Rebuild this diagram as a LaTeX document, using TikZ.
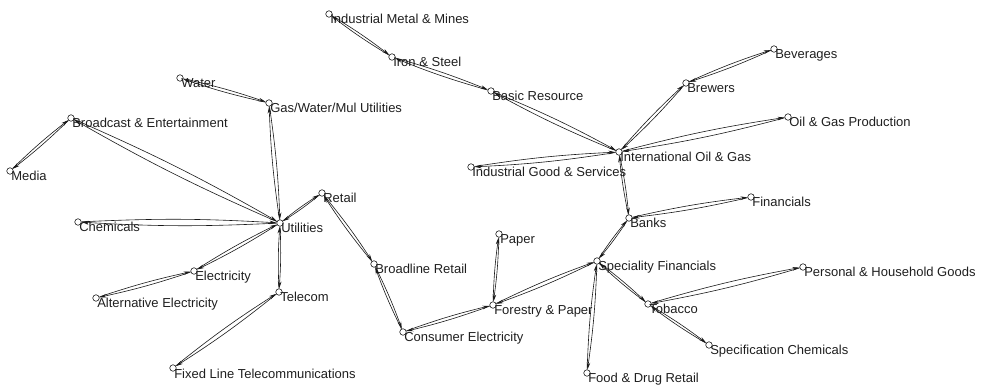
\documentclass[tikz,border=0pt]{standalone}
\usepackage{fontspec}
\setmainfont{Liberation Sans}
\usetikzlibrary{arrows.meta}

\begin{document}
\begin{tikzpicture}[x=1pt,y=-1pt,->,>={Stealth[length=7pt,width=3.6pt]},
	line width=0.6pt,draw=black!90]
	\tikzset{vertex/.style={circle,draw=black!90,fill=white,inner sep=0pt,minimum size=6.5pt},
		lbl/.style={anchor=base west,inner sep=0pt,text=black!88,font=\fontsize{13}{15}\selectfont}}
	\useasboundingbox (0,0) rectangle (983,387);

	% sectors
	\node[vertex] (water)     at (180,78)  {};
	\node[vertex] (gasutil)   at (269,103) {};
	\node[vertex] (broadcast) at (71,118)  {};
	\node[vertex] (media)     at (10,171)  {};
	\node[vertex] (chem)      at (78,222)  {};
	\node[vertex] (util)      at (280,223) {};
	\node[vertex] (retail)    at (322,193) {};
	\node[vertex] (elec)      at (194,271) {};
	\node[vertex] (altelec)   at (96,298)  {};
	\node[vertex] (telecom)   at (279,292) {};
	\node[vertex] (fixedline) at (173,368) {};
	\node[vertex] (metal)     at (329,14)  {};
	\node[vertex] (iron)      at (392,57)  {};
	\node[vertex] (basic)     at (491,91)  {};
	\node[vertex] (intoil)    at (619,152) {};
	\node[vertex] (indgood)   at (471,167) {};
	\node[vertex] (brewers)   at (686,83)  {};
	\node[vertex] (bev)       at (774,49)  {};
	\node[vertex] (oilprod)   at (788,117) {};
	\node[vertex] (fin)       at (751,197) {};
	\node[vertex] (banks)     at (629,218) {};
	\node[vertex] (specfin)   at (597,261) {};
	\node[vertex] (tobacco)   at (648,304) {};
	\node[vertex] (personal)  at (803,267) {};
	\node[vertex] (specchem)  at (709,345) {};
	\node[vertex] (fooddrug)  at (587,373) {};
	\node[vertex] (paper)     at (499,234) {};
	\node[vertex] (broadline) at (374,264) {};
	\node[vertex] (forestry)  at (493,305) {};
	\node[vertex] (conselec)  at (403,332) {};

	% labels
	\node[lbl] (water-t)     at ([shift={(1,10)}]water)     {Water};
	\node[lbl] (gasutil-t)   at ([shift={(1,10)}]gasutil)   {Gas/Water/Mul Utilities};
	\node[lbl] (broadcast-t) at ([shift={(1,10)}]broadcast) {Broadcast \& Entertainment};
	\node[lbl] (media-t)     at ([shift={(1,10)}]media)     {Media};
	\node[lbl] (chem-t)      at ([shift={(1,10)}]chem)      {Chemicals};
	\node[lbl] (util-t)      at ([shift={(1,10)}]util)      {Utilities};
	\node[lbl] (retail-t)    at ([shift={(1,10)}]retail)    {Retail};
	\node[lbl] (elec-t)      at ([shift={(1,10)}]elec)      {Electricity};
	\node[lbl] (altelec-t)   at ([shift={(1,10)}]altelec)   {Alternative Electricity};
	\node[lbl] (telecom-t)   at ([shift={(1,10)}]telecom)   {Telecom};
	\node[lbl] (fixedline-t) at ([shift={(1,10)}]fixedline) {Fixed Line Telecommunications};
	\node[lbl] (metal-t)     at ([shift={(1,10)}]metal)     {Industrial Metal \& Mines};
	\node[lbl] (iron-t)      at ([shift={(1,10)}]iron)      {Iron \& Steel};
	\node[lbl] (basic-t)     at ([shift={(1,10)}]basic)     {Basic Resource};
	\node[lbl] (intoil-t)    at ([shift={(1,10)}]intoil)    {International Oil \& Gas};
	\node[lbl] (indgood-t)   at ([shift={(1,10)}]indgood)   {Industrial Good \& Services};
	\node[lbl] (brewers-t)   at ([shift={(1,10)}]brewers)   {Brewers};
	\node[lbl] (bev-t)       at ([shift={(1,10)}]bev)       {Beverages};
	\node[lbl] (oilprod-t)   at ([shift={(1,10)}]oilprod)   {Oil \& Gas Production};
	\node[lbl] (fin-t)       at ([shift={(1,10)}]fin)       {Financials};
	\node[lbl] (banks-t)     at ([shift={(1,10)}]banks)     {Banks};
	\node[lbl] (specfin-t)   at ([shift={(1,10)}]specfin)   {Speciality Financials};
	\node[lbl] (tobacco-t)   at ([shift={(1,10)}]tobacco)   {Tobacco};
	\node[lbl] (personal-t)  at ([shift={(1,10)}]personal)  {Personal \& Household Goods};
	\node[lbl] (specchem-t)  at ([shift={(1,10)}]specchem)  {Specification Chemicals};
	\node[lbl] (fooddrug-t)  at ([shift={(1,10)}]fooddrug)  {Food \& Drug Retail};
	\node[lbl] (paper-t)     at ([shift={(1,10)}]paper)     {Paper};
	\node[lbl] (broadline-t) at ([shift={(1,10)}]broadline) {Broadline Retail};
	\node[lbl] (forestry-t)  at ([shift={(1,10)}]forestry)  {Forestry \& Paper};
	\node[lbl] (conselec-t)  at ([shift={(1,10)}]conselec)  {Consumer Electricity};

	% links, one arrow each way
	\foreach \a/\b in {water/gasutil,gasutil/util,broadcast/media,broadcast/util,
		chem/util,util/retail,util/elec,elec/altelec,util/telecom,telecom/fixedline,
		retail/broadline,broadline/conselec,conselec/forestry,forestry/paper,
		forestry/specfin,specfin/banks,specfin/fooddrug,specfin/tobacco,
		tobacco/personal,tobacco/specchem,banks/fin,banks/intoil,intoil/indgood,
		intoil/oilprod,intoil/brewers,brewers/bev,intoil/basic,basic/iron,iron/metal}
		\path (\a) edge[bend left=3] (\b)
		      (\b) edge[bend left=3] (\a);
\end{tikzpicture}
\end{document}
